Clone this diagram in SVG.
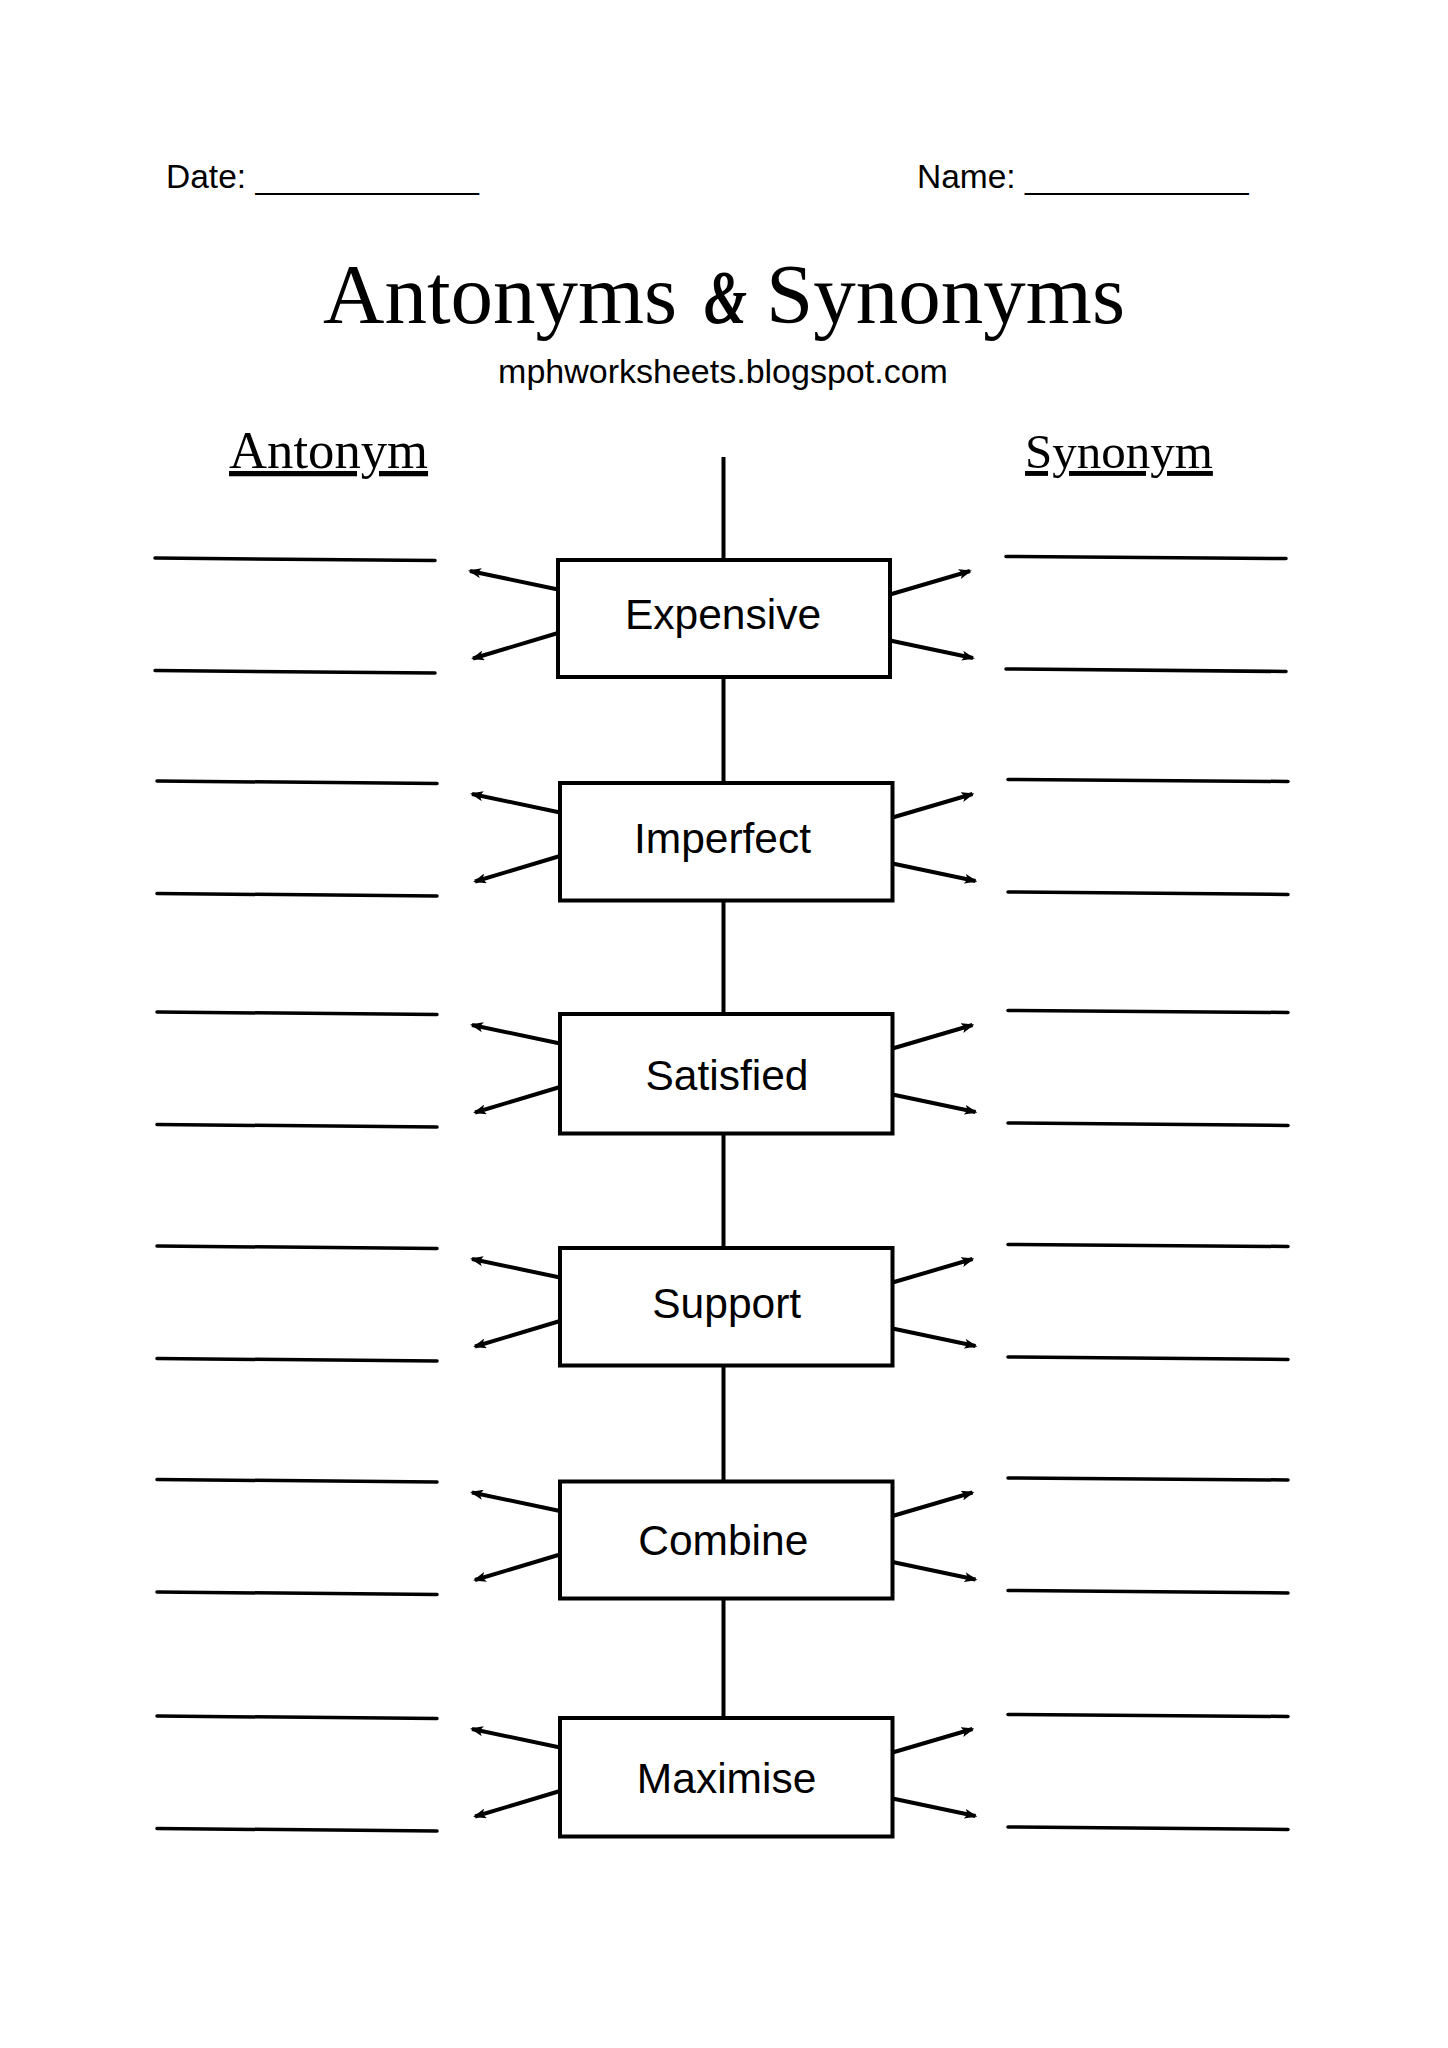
<svg xmlns="http://www.w3.org/2000/svg" width="1448" height="2048" viewBox="0 0 1448 2048">
<style>
.sans{font-family:"Liberation Sans",Arial,sans-serif;fill:#000}
.serif{font-family:"Liberation Serif","Times New Roman",serif;fill:#000}
.box{fill:#fff;stroke:#000;stroke-width:4}
.lbl{font-family:"Liberation Sans",Arial,sans-serif;font-size:42.5px;text-anchor:middle;fill:#000}
.ans{stroke:#000;stroke-width:3.5;stroke-linecap:round;fill:none}
.arr{stroke:#000;stroke-width:4;fill:none;marker-end:url(#ah)}
.spine{stroke:#000;stroke-width:4;fill:none}
</style>
<defs>
<marker id="ah" markerUnits="userSpaceOnUse" markerWidth="13" markerHeight="10" refX="11" refY="5" orient="auto">
<path d="M0,0 L13,5 L0,10 L3,5 z" fill="#000"/>
</marker>
</defs>
<rect width="1448" height="2048" fill="#fff"/>

<g id="header">
<text class="sans" x="166" y="188" font-size="33.5">Date: ____________</text>
<text class="sans" x="917" y="188" font-size="33.5">Name: ____________</text>
<text class="serif" y="323" font-size="85"><tspan x="323">Antonyms</tspan><tspan x="704" font-style="italic" font-weight="bold" font-size="76" textLength="43" lengthAdjust="spacingAndGlyphs">&amp;</tspan><tspan x="766">Synonyms</tspan></text>
<text class="sans" x="723" y="383" font-size="34" text-anchor="middle">mphworksheets.blogspot.com</text>
<text class="serif" x="229" y="468" font-size="52.7" text-decoration="underline">Antonym</text>
<text class="serif" x="1025" y="468" font-size="49" text-decoration="underline">Synonym</text>
</g>

<g id="connectors">
<line class="spine" x1="723.5" y1="457" x2="723.5" y2="1718"/>
<!-- row 1 -->
<line class="arr" x1="558" y1="589.5" x2="470" y2="571"/>
<line class="arr" x1="558" y1="633" x2="473" y2="658.5"/>
<line class="arr" x1="890" y1="594.5" x2="970" y2="571"/>
<line class="arr" x1="890" y1="640.5" x2="973" y2="658"/>
<!-- row 2 -->
<line class="arr" x1="560" y1="812.5" x2="472" y2="794"/>
<line class="arr" x1="560" y1="856" x2="475" y2="881.5"/>
<line class="arr" x1="892.5" y1="817.5" x2="972.5" y2="794"/>
<line class="arr" x1="892.5" y1="863.5" x2="975.5" y2="881"/>
<!-- row 3 -->
<line class="arr" x1="560" y1="1043.5" x2="472" y2="1025"/>
<line class="arr" x1="560" y1="1087" x2="475" y2="1112.5"/>
<line class="arr" x1="892.5" y1="1048.5" x2="972.5" y2="1025"/>
<line class="arr" x1="892.5" y1="1094.5" x2="975.5" y2="1112"/>
<!-- row 4 -->
<line class="arr" x1="560" y1="1277.5" x2="472" y2="1259"/>
<line class="arr" x1="560" y1="1321" x2="475" y2="1346.5"/>
<line class="arr" x1="892.5" y1="1282.5" x2="972.5" y2="1259"/>
<line class="arr" x1="892.5" y1="1328.5" x2="975.5" y2="1346"/>
<!-- row 5 -->
<line class="arr" x1="560" y1="1511" x2="472" y2="1492.5"/>
<line class="arr" x1="560" y1="1554.5" x2="475" y2="1580"/>
<line class="arr" x1="892.5" y1="1516" x2="972.5" y2="1492.5"/>
<line class="arr" x1="892.5" y1="1562" x2="975.5" y2="1579.5"/>
<!-- row 6 -->
<line class="arr" x1="560" y1="1747.5" x2="472" y2="1729"/>
<line class="arr" x1="560" y1="1791" x2="475" y2="1816.5"/>
<line class="arr" x1="892.5" y1="1752.5" x2="972.5" y2="1729"/>
<line class="arr" x1="892.5" y1="1798.5" x2="975.5" y2="1816"/>
</g>

<g id="answer-lines">
<line class="ans" x1="155" y1="558" x2="435" y2="560.5"/>
<line class="ans" x1="155" y1="670.5" x2="435" y2="673"/>
<line class="ans" x1="1006" y1="556.5" x2="1286" y2="558.5"/>
<line class="ans" x1="1006" y1="669" x2="1286" y2="671.5"/>

<line class="ans" x1="157" y1="781" x2="437" y2="783.5"/>
<line class="ans" x1="157" y1="893.5" x2="437" y2="896"/>
<line class="ans" x1="1008" y1="779.5" x2="1288" y2="781.5"/>
<line class="ans" x1="1008" y1="892" x2="1288" y2="894.5"/>

<line class="ans" x1="157" y1="1012" x2="437" y2="1014.5"/>
<line class="ans" x1="157" y1="1124.5" x2="437" y2="1127"/>
<line class="ans" x1="1008" y1="1010.5" x2="1288" y2="1012.5"/>
<line class="ans" x1="1008" y1="1123" x2="1288" y2="1125.5"/>

<line class="ans" x1="157" y1="1246" x2="437" y2="1248.5"/>
<line class="ans" x1="157" y1="1358.5" x2="437" y2="1361"/>
<line class="ans" x1="1008" y1="1244.5" x2="1288" y2="1246.5"/>
<line class="ans" x1="1008" y1="1357" x2="1288" y2="1359.5"/>

<line class="ans" x1="157" y1="1479.5" x2="437" y2="1482"/>
<line class="ans" x1="157" y1="1592" x2="437" y2="1594.5"/>
<line class="ans" x1="1008" y1="1478" x2="1288" y2="1480"/>
<line class="ans" x1="1008" y1="1590.5" x2="1288" y2="1593"/>

<line class="ans" x1="157" y1="1716" x2="437" y2="1718.5"/>
<line class="ans" x1="157" y1="1828.5" x2="437" y2="1831"/>
<line class="ans" x1="1008" y1="1714.5" x2="1288" y2="1716.5"/>
<line class="ans" x1="1008" y1="1827" x2="1288" y2="1829.5"/>
</g>

<g id="node-expensive">
<rect class="box" x="558" y="560" width="332" height="117"/>
<text class="lbl" x="723" y="629.3">Expensive</text>
</g>
<g id="node-imperfect">
<rect class="box" x="560" y="783" width="332.5" height="117.5"/>
<text class="lbl" x="722.5" y="852.7">Imperfect</text>
</g>
<g id="node-satisfied">
<rect class="box" x="560" y="1014" width="332.5" height="119.5"/>
<text class="lbl" x="727" y="1090">Satisfied</text>
</g>
<g id="node-support">
<rect class="box" x="560" y="1248" width="332.5" height="117.5"/>
<text class="lbl" x="726.7" y="1317.7">Support</text>
</g>
<g id="node-combine">
<rect class="box" x="560" y="1481.5" width="332.5" height="117"/>
<text class="lbl" x="723.3" y="1555">Combine</text>
</g>
<g id="node-maximise">
<rect class="box" x="560" y="1718" width="332.5" height="118.5"/>
<text class="lbl" x="726.6" y="1793.3">Maximise</text>
</g>
</svg>
